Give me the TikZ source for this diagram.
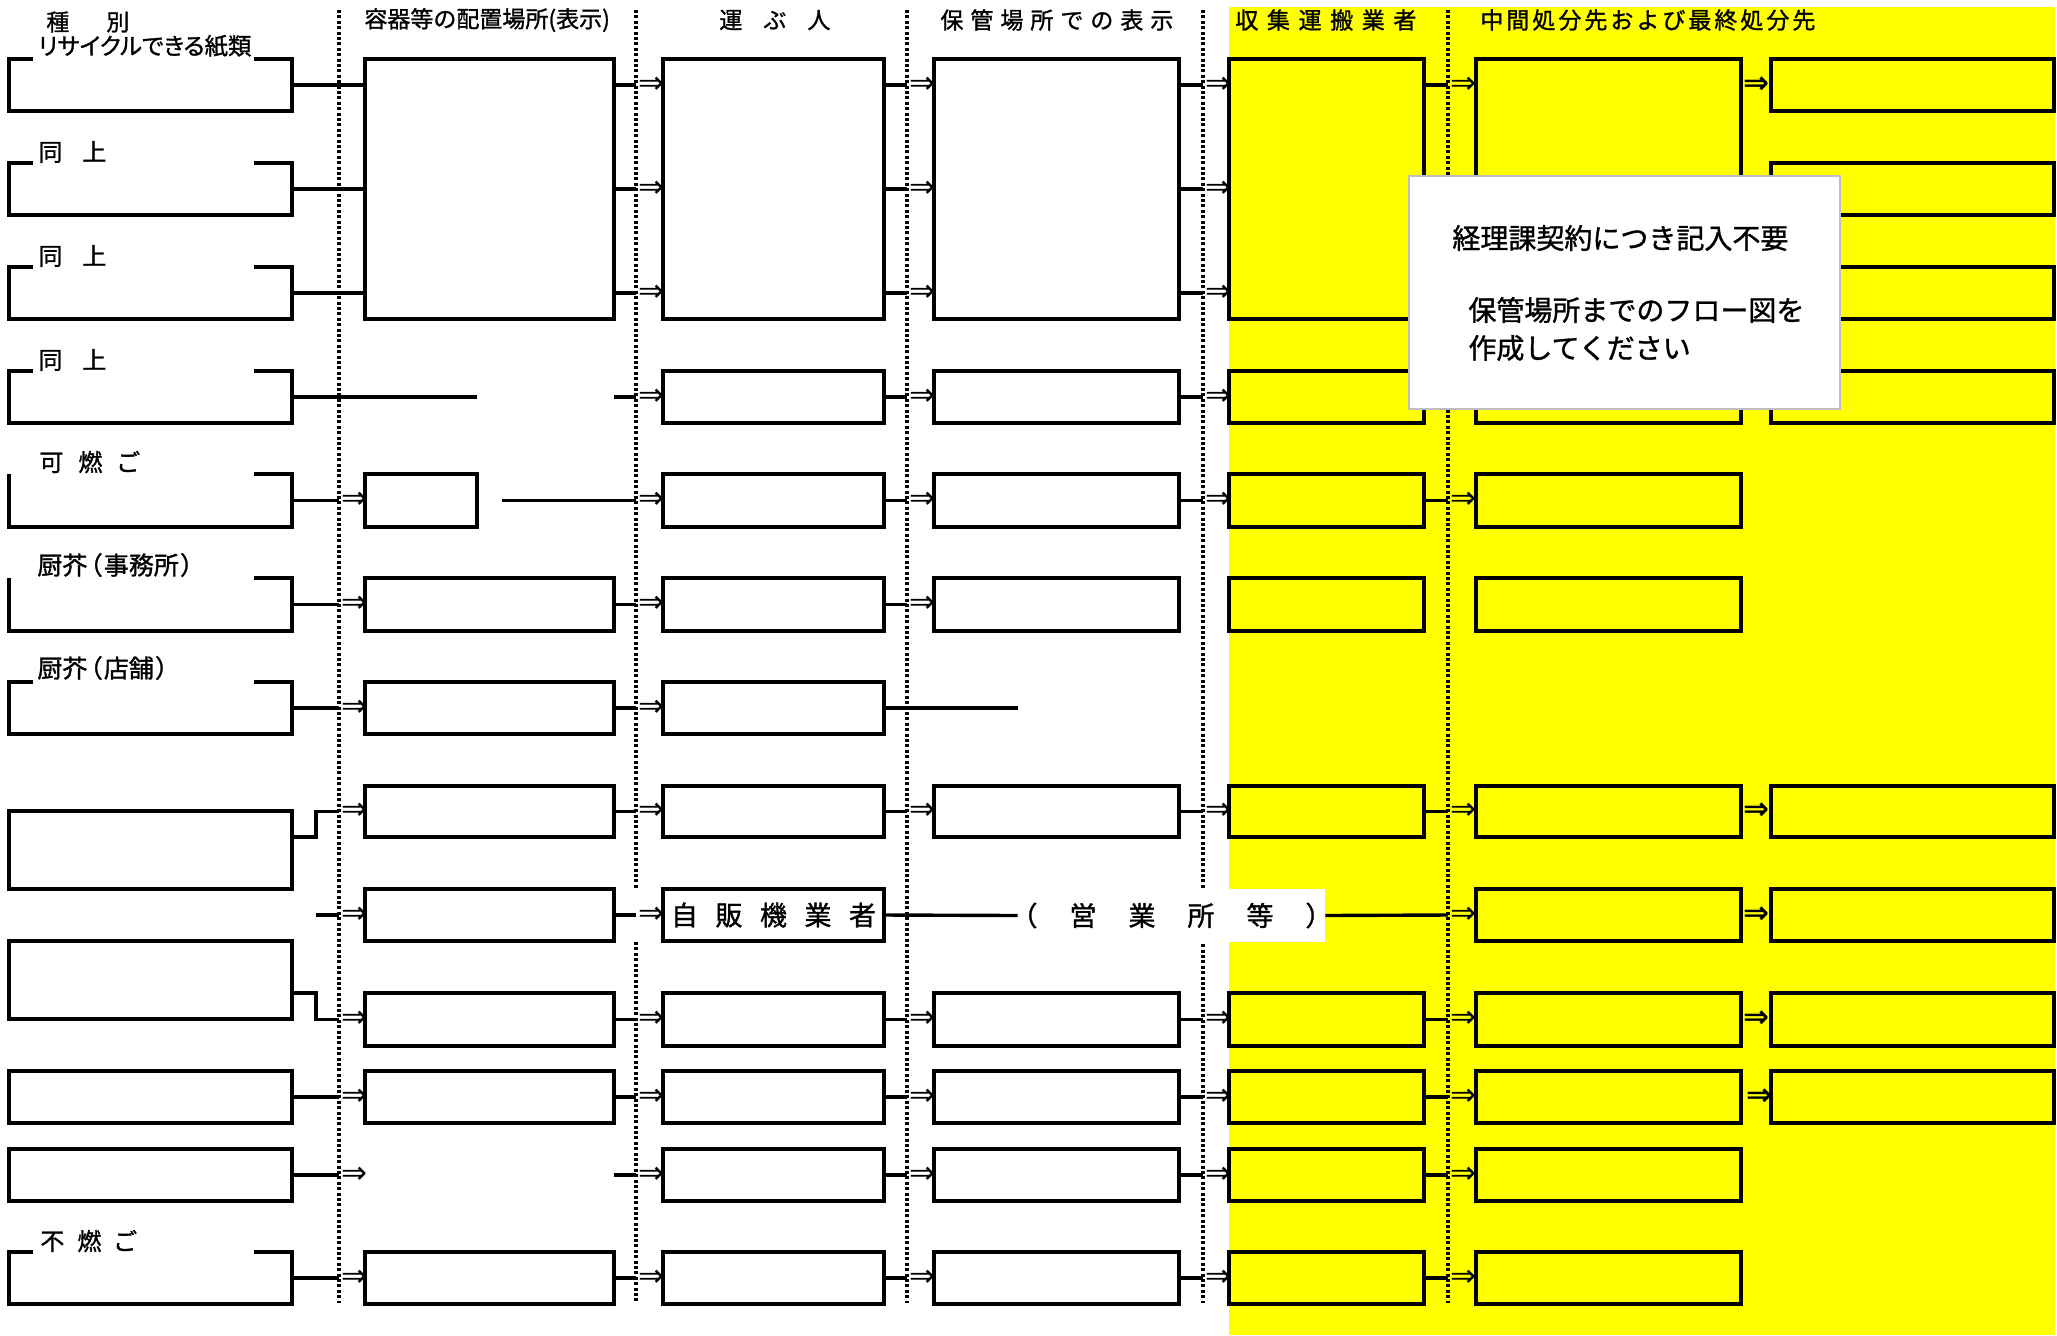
\documentclass[tikz,border=0pt]{standalone}
\usepackage{fontspec}
\newfontfamily\jpf{Noto Sans CJK JP}[FakeBold=1.2]
\newfontfamily\jpp{Noto Sans CJK JP}[FakeBold=1.2,RawFeature=+palt]
\newfontfamily\arwf{DejaVu Sans}
\definecolor{yel}{RGB}{255,255,0}
\newcommand\lsp[1]{\hspace*{#1}}
% [style]{name}{x1}{x2}{y1}{y2}
\newcommand\bx[6][box]{\node[#1,minimum width={(#4-#3)*0.5pt},minimum height={(#6-#5)*0.5pt}] (#2) at (#3,#5) {};}
\newcommand\brk[1]{\draw[ln] ([xshift=12pt]#1.north west) -- (#1.north west) -- (#1.south west) -- (#1.south east) -- (#1.north east) -- ([xshift=-19pt]#1.north east);}
\newcommand\brkn[1]{\draw[ln] (#1.north west) -- (#1.south west) -- (#1.south east) -- (#1.north east) -- ([xshift=-19pt]#1.north east);}
\begin{document}
\begin{tikzpicture}[x=0.5pt,y=-0.5pt,
 ln/.style={line width=1.7pt},
 box/.style={draw,line width=1.7pt,inner sep=0pt,outer sep=0pt,anchor=north west},
 frame/.style={inner sep=0pt,outer sep=0pt,anchor=north west},
 dotl/.style={line width=1.6pt,dash pattern=on 1.5pt off 1.2pt},
 hdr/.style={font=\jpf\fontsize{11.5pt}{13pt}\selectfont,inner sep=0pt,anchor=west},
 lbl/.style={font=\jpp\fontsize{12pt}{14pt}\selectfont,inner sep=0pt,anchor=west},
 lblk/.style={font=\jpp\fontsize{12.5pt}{14pt}\selectfont,inner sep=0pt,anchor=west},
 big/.style={font=\jpf\fontsize{13.5pt}{15pt}\selectfont},
 nt/.style={font=\jpf\fontsize{14pt}{16pt}\selectfont,inner sep=0pt,anchor=west},
 ar/.style={font=\arwf\fontsize{15.5pt}{12pt}\selectfont,inner sep=0pt},
 arb/.style={font=\arwf\bfseries\fontsize{15.5pt}{12pt}\selectfont,inner sep=0pt},
]
\fill[white] (0,0) rectangle (2057,1335);
\useasboundingbox (0,0) rectangle (2057,1335);
\fill[yel] (1229,7) rectangle (2055,1335);

% reference coordinates
\coordinate (D1) at (339,0);
\coordinate (D2) at (636,0);
\coordinate (D3) at (907,0);
\coordinate (D4) at (1203,0);
\coordinate (D5) at (1448,0);
\coordinate (D6) at (1741,0);
\foreach \n/\y in {1/85,2/189,3/293,4/397,5/500.5,6/604.5,7/708,8/811.5,9/915,10/1019.5,11/1097,12/1175,13/1278}
  \coordinate (R\n) at (0,\y);

% dotted column separators
\foreach \x in {339,907,1203,1448} \draw[dotl] (\x,10) -- (\x,1303);
\draw[dotl] (636,10) -- (636,888);
\draw[dotl] (636,942) -- (636,1303);

% headers
\node[hdr] (h1) at (46,22) {種\lsp{18.5pt}別};
\node[hdr] (h2) at (364,20) {容器等の配置場所(表示)};
\node[hdr] (h3) at (719,20) {運\lsp{10.5pt}ぶ\lsp{10.5pt}人};
\node[hdr] (h4) at (940,20) {保\lsp{3.5pt}管\lsp{3.5pt}場\lsp{3.5pt}所\lsp{3.5pt}で\lsp{3.5pt}の\lsp{3.5pt}表\lsp{3.5pt}示};
\node[hdr] (h5) at (1235,20) {収\lsp{4.3pt}集\lsp{4.3pt}運\lsp{4.3pt}搬\lsp{4.3pt}業\lsp{4.3pt}者};
\node[hdr] (h6) at (1480,20) {中\lsp{1.5pt}間\lsp{1.5pt}処\lsp{1.5pt}分\lsp{1.5pt}先\lsp{1.5pt}お\lsp{1.5pt}よ\lsp{1.5pt}び\lsp{1.5pt}最\lsp{1.5pt}終\lsp{1.5pt}処\lsp{1.5pt}分\lsp{1.5pt}先};

% column 1 (種別)
\bx[frame]{c1r1}{9}{292}{59}{111}
\bx[frame]{c1r2}{9}{292}{163}{215}
\bx[frame]{c1r3}{9}{292}{267}{319}
\bx[frame]{c1r4}{9}{292}{371}{423}
\bx[frame]{c1r5}{9}{292}{474}{527}
\bx[frame]{c1r6}{9}{292}{578}{631}
\bx[frame]{c1r7}{9}{292}{682}{734}
\bx[frame]{c1r13}{9}{292}{1252}{1304}
\brk{c1r1}\brk{c1r2}\brk{c1r3}\brk{c1r4}\brkn{c1r5}\brkn{c1r6}\brk{c1r7}\brk{c1r13}
\bx{c1r8}{9}{292}{811}{889}
\bx{c1r10}{9}{292}{941}{1019}
\bx{c1r11}{9}{292}{1071}{1123}
\bx{c1r12}{9}{292}{1149}{1201}

\node[lbl,font=\jpp\fontsize{11.7pt}{14pt}\selectfont] (l1) at (38,46) {リサイクルできる紙類};
\node[lbl] (l2) at (38,152) {同\lsp{10pt}上};
\node[lbl] (l3) at (38,256) {同\lsp{10pt}上};
\node[lbl] (l4) at (38,360) {同\lsp{10pt}上};
\node[lbl] (l5) at (39,462) {可\lsp{7.5pt}燃\lsp{7.5pt}ご};
\node[lblk] (l6) at (37,565) {厨芥\lsp{1pt}（\lsp{1pt}事務所\lsp{1pt}）};
\node[lblk] (l7) at (37,668) {厨芥\lsp{1pt}（\lsp{1pt}店舗\lsp{1pt}）};
\node[lbl] (l13) at (40,1241) {不\lsp{6.5pt}燃\lsp{6.5pt}ご};

% column 2 (容器等の配置場所)
\bx{c2t}{365}{614}{59}{319}
\bx{c2r5}{365}{477}{474}{527}
\bx{c2r6}{365}{614}{578}{631}
\bx{c2r7}{365}{614}{682}{734}
\bx{c2r8}{365}{614}{786}{837}
\bx{c2r9}{365}{614}{889}{941}
\bx{c2r10}{365}{614}{993}{1046}
\bx{c2r11}{365}{614}{1071}{1123}
\bx{c2r13}{365}{614}{1252}{1304}

% column 3 (運ぶ人)
\bx{c3t}{663}{884}{59}{319}
\bx{c3r4}{663}{884}{371}{423}
\bx{c3r5}{663}{884}{474}{527}
\bx{c3r6}{663}{884}{578}{631}
\bx{c3r7}{663}{884}{682}{734}
\bx{c3r8}{663}{884}{786}{837}
\node[box,big,minimum width=110.5pt,minimum height=26pt] (c3r9) at (663,889) {自\lsp{8.75pt}販\lsp{8.75pt}機\lsp{8.75pt}業\lsp{8.75pt}者};
\bx{c3r10}{663}{884}{993}{1046}
\bx{c3r11}{663}{884}{1071}{1123}
\bx{c3r12}{663}{884}{1149}{1201}
\bx{c3r13}{663}{884}{1252}{1304}

% column 4 (保管場所での表示)
\bx{c4t}{934}{1179}{59}{319}
\bx{c4r4}{934}{1179}{371}{423}
\bx{c4r5}{934}{1179}{474}{527}
\bx{c4r6}{934}{1179}{578}{631}
\bx{c4r8}{934}{1179}{786}{837}
\bx{c4r10}{934}{1179}{993}{1046}
\bx{c4r11}{934}{1179}{1071}{1123}
\bx{c4r12}{934}{1179}{1149}{1201}
\bx{c4r13}{934}{1179}{1252}{1304}

% column 5 (収集運搬業者)
\bx{c5t}{1229}{1424}{59}{319}
\bx{c5r4}{1229}{1424}{371}{423}
\bx{c5r5}{1229}{1424}{474}{527}
\bx{c5r6}{1229}{1424}{578}{631}
\bx{c5r8}{1229}{1424}{786}{837}
\bx{c5r10}{1229}{1424}{993}{1046}
\bx{c5r11}{1229}{1424}{1071}{1123}
\bx{c5r12}{1229}{1424}{1149}{1201}
\bx{c5r13}{1229}{1424}{1252}{1304}

% column 6 (中間処分先)
\bx{c6t}{1476}{1741}{59}{319}
\bx{c6r4}{1476}{1741}{371}{423}
\bx{c6r5}{1476}{1741}{474}{527}
\bx{c6r6}{1476}{1741}{578}{631}
\bx{c6r8}{1476}{1741}{786}{837}
\bx{c6r9}{1476}{1741}{889}{941}
\bx{c6r10}{1476}{1741}{993}{1046}
\bx{c6r11}{1476}{1741}{1071}{1123}
\bx{c6r12}{1476}{1741}{1149}{1201}
\bx{c6r13}{1476}{1741}{1252}{1304}

% column 7 (最終処分先)
\bx{c7r1}{1771}{2054}{59}{111}
\bx{c7r2}{1771}{2054}{163}{215}
\bx{c7r3}{1771}{2054}{267}{319}
\bx{c7r4}{1771}{2054}{371}{423}
\bx{c7r8}{1771}{2054}{786}{837}
\bx{c7r9}{1771}{2054}{889}{941}
\bx{c7r10}{1771}{2054}{993}{1046}
\bx{c7r11}{1771}{2054}{1071}{1123}

% (営業所等)
\node[fill=white,inner sep=0pt,minimum height=26.5pt,big] (eig) at (1171.5,915.5) {\makebox[153.5pt]{（\lsp{16pt}営\lsp{16pt}業\lsp{16pt}所\lsp{16pt}等\lsp{16pt}）}};

% free ends
\coordinate (E4) at (477,397);
\coordinate (S4) at (614,397);
\coordinate (S5) at (502,500.5);
\coordinate (S12) at (614,1175);
\coordinate (E7) at (1018,708);
\coordinate (s8a) at (316,837);
\coordinate (s8b) at (316,811.5);
\coordinate (s9) at (316,915);
\coordinate (s10a) at (316,993);
\coordinate (s10b) at (316,1019.5);

% connectors column 1 -> 2
\foreach \n in {1,2,3} \draw[ln] (c1r\n.east) -- (c2t.west |- R\n);
\draw[ln] (c1r4.east) -- (E4);
\foreach \n in {5,6,7,11,12,13} \draw[ln] (c1r\n.east) -- (D1 |- R\n);
\draw[ln] (c1r8.east |- s8a) -- (s8a) -- (s8b) -- (D1 |- R8);
\draw[ln] (s9) -- (D1 |- R9);
\draw[ln] (c1r10.east |- s10a) -- (s10a) -- (s10b) -- (D1 |- R10);

% column 2 -> 3
\foreach \n in {1,2,3} \draw[ln] (c2t.east |- R\n) -- (D2 |- R\n);
\foreach \n in {6,7,8,9,10,11,13} \draw[ln] (c2r\n.east) -- (D2 |- R\n);
\draw[ln] (S4) -- (D2 |- R4);
\draw[ln] (S5) -- (D2 |- R5);
\draw[ln] (S12) -- (D2 |- R12);

% column 3 -> 4
\foreach \n in {1,2,3} \draw[ln] (c3t.east |- R\n) -- (D3 |- R\n);
\foreach \n in {4,5,6,8,10,11,12,13} \draw[ln] (c3r\n.east) -- (D3 |- R\n);
\draw[ln] (c3r7.east) -- (E7);
\draw[ln] (c3r9.east) -- (eig.west);

% column 4 -> 5
\foreach \n in {1,2,3} \draw[ln] (c4t.east |- R\n) -- (D4 |- R\n);
\foreach \n in {4,5,8,10,11,12,13} \draw[ln] (c4r\n.east) -- (D4 |- R\n);

% column 5 -> 6
\draw[ln] (c5t.east |- R1) -- (D5 |- R1);
\foreach \n in {5,8,10,11,12,13} \draw[ln] (c5r\n.east) -- (D5 |- R\n);
\draw[ln] (eig.east) -- (D5 |- R9);

% arrows
\foreach \n in {5,6,7,8,9,10,11,12,13} \path (D1 |- R\n) node[ar,xshift=7.5pt] (p1r\n) {⇒};
\foreach \n in {1,2,3,4,5,6,7,8,9,10,11,12,13} \path (D2 |- R\n) node[ar,xshift=7.5pt] (p2r\n) {⇒};
\foreach \n in {1,2,3,4,5,6,8,10,11,12,13} \path (D3 |- R\n) node[ar,xshift=7.5pt] (p3r\n) {⇒};
\foreach \n in {1,2,3,4,5,8,10,11,12,13} \path (D4 |- R\n) node[ar,xshift=7.5pt] (p4r\n) {⇒};
\foreach \n in {1,5,8,9,10,11,12,13} \path (D5 |- R\n) node[ar,xshift=7.5pt] (p5r\n) {⇒};
\foreach \n in {1,8,9,10} \path (D6 |- R\n) node[arb,xshift=7.5pt] (p6r\n) {⇒};
\path (D6 |- R11) node[arb,xshift=9pt] (p6r11) {⇒};

% note
\node[frame,draw=black!25,line width=0.9pt,fill=white,minimum width=215.5pt,minimum height=116.5pt] (note) at (1409,176) {};
\node[nt] (n1) at (1452,238) {経理課契約につき記入不要};
\node[nt] (n2) at (1468,310) {保管場所までのフロー図を};
\node[nt] (n3) at (1468,348) {作成してください};
\end{tikzpicture}
\end{document}
